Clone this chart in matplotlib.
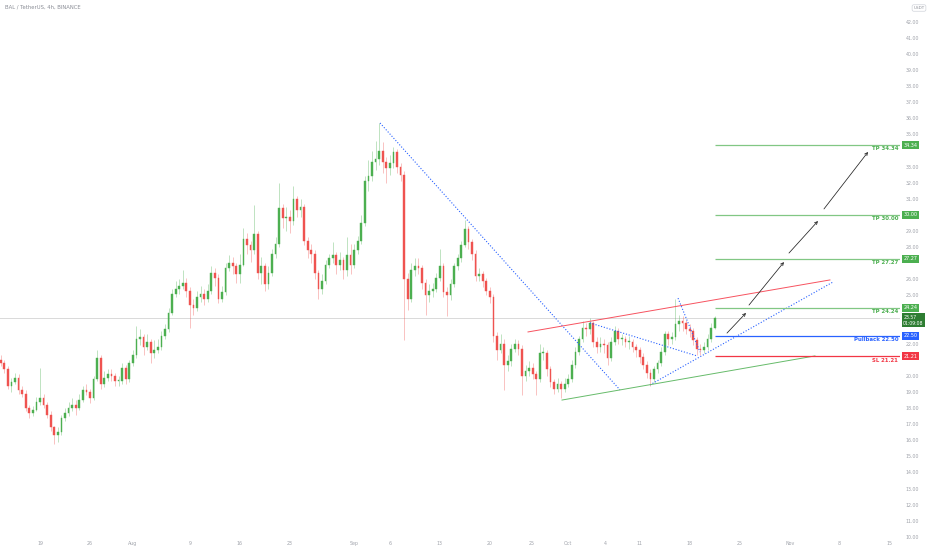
import matplotlib
matplotlib.use("Agg")
import matplotlib.pyplot as plt
import matplotlib.dates as mdates
from matplotlib.transforms import blended_transform_factory
import pandas as pd

# ---------------- data ----------------
title_text = "BAL / TetherUS, 4h, BINANCE"
first_open = 21.0
closes = [20.8, 20.4, 19.4, 19.6, 19.9, 19.1, 18.9, 18.0, 17.7, 17.9,
          18.4, 18.6, 18.2, 17.6, 16.8, 16.3, 16.5, 17.4, 17.7, 18.0,
          18.2, 18.0, 18.5, 19.1, 19.0, 18.6, 19.8, 21.1, 19.5, 19.9,
          20.1, 20.0, 19.7, 19.7, 20.5, 19.8, 20.8, 21.3, 22.3, 22.4,
          21.8, 22.1, 21.4, 21.6, 21.8, 22.5, 22.9, 23.9, 25.1, 25.4,
          25.6, 25.8, 25.3, 24.4, 24.2, 24.9, 25.1, 24.8, 25.3, 26.4,
          26.1, 24.8, 25.2, 26.7, 27.0, 26.8, 26.3, 26.9, 28.5, 28.1,
          27.8, 28.8, 26.4, 26.8, 25.7, 26.4, 27.6, 28.2, 30.4, 29.8,
          29.9, 29.6, 31.0, 30.3, 30.5, 28.4, 27.8, 27.6, 26.4, 25.4,
          25.9, 26.9, 27.3, 27.5, 26.9, 27.2, 26.6, 27.5, 26.9, 27.8,
          28.4, 29.5, 32.1, 32.4, 33.3, 33.5, 34.0, 33.3, 32.9, 33.2,
          33.9, 33.0, 32.5, 26.0, 24.8, 26.6, 26.8, 26.7, 25.8, 25.0,
          25.3, 25.4, 26.1, 26.8, 25.2, 25.0, 25.7, 26.8, 27.3, 28.1,
          29.1, 28.3, 27.6, 26.2, 26.3, 25.9, 25.3, 24.9, 22.5, 21.6,
          22.0, 20.7, 20.9, 21.7, 22.0, 21.7, 20.0, 20.3, 20.5, 20.1,
          19.8, 21.4, 21.4, 20.4, 19.6, 19.2, 19.5, 19.2, 19.5, 19.8,
          20.7, 21.5, 22.3, 23.0, 22.9, 23.3, 22.1, 21.8, 22.0, 21.9,
          21.1, 22.1, 22.8, 22.3, 22.3, 22.1, 22.1, 21.8, 21.6, 21.2,
          20.7, 20.2, 19.8, 20.4, 20.8, 21.5, 22.6, 22.3, 22.4, 23.2,
          23.4, 23.3, 22.9, 22.8, 22.2, 21.7, 21.6, 21.8, 22.3, 23.0,
          23.57]
highs = [21.3, 21.0, 20.6, 19.9, 20.2, 20.1, 19.4, 19.1, 18.2, 18.1,
         18.7, 20.5, 18.9, 18.4, 17.8, 16.9, 16.8, 17.6, 18.0, 18.4,
         18.6, 18.5, 18.9, 19.4, 19.5, 19.2, 20.0, 21.6, 21.3, 20.3,
         20.4, 20.4, 20.2, 20.0, 20.8, 20.7, 21.0, 21.6, 23.1, 22.9,
         22.6, 22.6, 22.3, 22.2, 22.3, 22.8, 23.2, 24.2, 25.4, 25.9,
         26.0, 26.6, 26.1, 25.5, 24.8, 25.3, 25.6, 25.4, 25.7, 26.8,
         26.7, 26.3, 25.6, 27.0, 27.5, 27.4, 27.0, 27.6, 29.2, 28.9,
         28.4, 30.6, 29.0, 27.4, 27.0, 26.8, 27.9, 28.6, 32.0, 30.7,
         30.5, 30.3, 31.8, 31.2, 31.0, 30.7, 28.6, 28.2, 27.8, 26.6,
         26.3, 27.2, 27.6, 28.3, 27.7, 27.7, 27.4, 28.6, 28.2, 28.2,
         28.7, 30.0, 32.4, 33.4, 34.0, 34.6, 35.7, 34.5, 33.6, 33.7,
         34.2, 34.1, 33.2, 32.7, 26.4, 27.0, 27.3, 27.3, 26.9, 26.0,
         25.7, 25.8, 26.4, 27.9, 27.0, 25.5, 26.0, 27.0, 27.6, 28.4,
         29.7, 29.3, 28.5, 27.8, 26.7, 26.5, 26.1, 25.5, 25.1, 22.7,
         22.6, 22.3, 21.3, 22.0, 22.3, 22.2, 21.9, 20.7, 20.9, 20.8,
         20.3, 22.0, 21.8, 21.6, 20.6, 19.8, 19.9, 19.7, 19.9, 20.1,
         21.0, 21.8, 22.5, 23.4, 23.3, 23.6, 23.4, 22.4, 22.4, 22.3,
         22.1, 22.4, 23.1, 23.0, 22.6, 22.5, 22.5, 22.3, 22.0, 21.8,
         21.4, 20.9, 20.4, 20.6, 21.0, 21.8, 22.8, 22.8, 22.7, 24.8,
         23.8, 23.7, 23.5, 23.2, 23.0, 22.4, 22.0, 22.1, 22.6, 23.3,
         23.7]
lows = [20.6, 20.2, 19.2, 19.0, 19.5, 18.9, 18.7, 17.8, 17.4, 17.5,
        17.8, 18.2, 18.0, 17.4, 16.6, 15.8, 15.9, 16.3, 17.2, 17.5,
        17.8, 17.6, 17.9, 18.4, 18.8, 18.3, 18.5, 19.7, 19.2, 19.3,
        19.7, 19.7, 19.4, 19.4, 19.5, 19.5, 19.6, 20.6, 21.1, 21.9,
        21.3, 21.6, 20.8, 21.1, 21.4, 21.6, 22.3, 22.7, 23.8, 24.9,
        25.1, 25.4, 24.9, 23.0, 23.8, 24.0, 24.6, 24.4, 24.6, 25.1,
        25.6, 24.5, 24.6, 25.0, 26.5, 26.3, 25.8, 25.8, 26.8, 27.6,
        27.1, 27.6, 26.0, 25.7, 25.3, 25.4, 26.2, 27.3, 28.0, 29.2,
        29.0, 28.9, 29.4, 29.9, 29.9, 28.1, 27.3, 27.0, 26.0, 24.8,
        25.1, 25.7, 26.7, 27.0, 26.3, 26.6, 26.0, 26.2, 26.3, 26.7,
        27.6, 28.2, 29.3, 31.5, 32.1, 32.8, 33.1, 32.6, 32.0, 32.5,
        32.9, 32.6, 32.1, 22.2, 24.1, 24.6, 26.2, 26.3, 25.4, 23.8,
        24.6, 24.9, 25.2, 25.9, 24.9, 23.7, 24.7, 25.5, 26.6, 27.1,
        28.0, 27.9, 27.2, 25.9, 25.9, 25.5, 25.0, 24.5, 22.1, 21.0,
        21.4, 19.1, 20.3, 20.6, 21.5, 21.3, 18.8, 19.7, 20.0, 19.8,
        18.8, 19.6, 21.0, 20.0, 19.3, 18.9, 19.0, 18.6, 19.0, 19.3,
        19.6, 20.5, 21.3, 22.1, 22.5, 22.6, 21.8, 21.4, 21.5, 21.4,
        20.7, 20.9, 21.9, 22.0, 21.9, 21.8, 21.7, 21.5, 21.2, 20.8,
        20.4, 19.9, 19.4, 19.6, 20.2, 20.6, 21.3, 21.9, 22.0, 22.2,
        22.8, 22.8, 22.6, 22.4, 21.9, 21.3, 21.3, 21.4, 21.6, 22.1,
        22.9]
candle_start = "2021-07-13 12:00"
candle_step = "12h"

last_price = 23.57
countdown = "01:09:08"

level_values = [34.34, 30.00, 27.27, 24.24, 22.50, 21.21]
level_names = ["TP 34.34", "TP 30.00", "TP 27.27", "TP 24.24", "Pullback 22.50", "SL 21.21"]
level_colors = ["#4caf50", "#4caf50", "#4caf50", "#4caf50", "#2962ff", "#f23645"]
level_start = "2021-10-21 13:00"

# trend lines: (start date, start price, end date, end price)
blue_dotted = [("2021-09-04 15:00", 35.71, "2021-10-08 05:30", 19.13),
               ("2021-10-04 00:45", 23.29, "2021-10-19 00:30", 21.24),
               ("2021-10-16 08:40", 24.83, "2021-10-19 10:30", 21.48),
               ("2021-10-12 10:20", 19.44, "2021-11-07 01:30", 25.83)]
red_line = ("2021-09-25 08:24", 22.73, "2021-11-06 15:20", 25.96)
green_line = ("2021-09-30 02:40", 18.50, "2021-11-04 13:00", 21.24)
arrows = [("2021-10-23 05:17", 22.66, "2021-10-25 21:07", 23.91),
          ("2021-10-26 07:12", 24.40, "2021-10-31 04:48", 27.07),
          ("2021-10-31 21:36", 27.63, "2021-11-04 23:02", 29.62),
          ("2021-11-05 19:12", 30.37, "2021-11-11 23:17", 33.91)]

x_tick_dates = ["2021-07-19", "2021-07-26", "2021-08-01", "2021-08-09", "2021-08-16",
                "2021-08-23", "2021-09-01", "2021-09-06", "2021-09-13", "2021-09-20",
                "2021-09-25 22:00", "2021-10-01", "2021-10-06 03:00", "2021-10-11",
                "2021-10-18", "2021-10-25", "2021-11-01", "2021-11-08", "2021-11-15"]
x_tick_labels = ["19", "26", "Aug", "9", "16", "23", "Sep", "6", "13", "20",
                 "25", "Oct", "4", "11", "18", "25", "Nov", "8", "15"]
y_ticks = [10, 11, 12, 13, 14, 15, 16, 17, 18, 19, 20, 22, 25, 26, 28, 29,
           31, 32, 33, 35, 36, 37, 38, 39, 40, 41, 42]
x_limits = ("2021-07-13 09:36", "2021-11-16 10:48")
y_limits = (9.93, 43.35)

# ---------------- figure ----------------
W, H = 932, 550
fig = plt.figure(figsize=(W / 100, H / 100), dpi=100)
ax = fig.add_axes([0, 12 / H, 900 / W, 1 - 12 / H])
ax.set_facecolor("white")

times = pd.date_range(candle_start, periods=len(closes), freq=candle_step)
tnum = mdates.date2num(times)
opens = [first_open] + closes[:-1]
up_col, dn_col = "#4caf50", "#ef5350"
cols = [up_col if c >= o else dn_col for o, c in zip(opens, closes)]
ax.vlines(tnum, lows, highs, colors=cols, linewidth=0.5, alpha=0.5, zorder=3)
bottoms = [min(o, c) for o, c in zip(opens, closes)]
heights = [max(abs(c - o), 0.06) for o, c in zip(opens, closes)]
ax.bar(tnum, heights, bottom=bottoms, width=0.24, color=cols, edgecolor=cols,
       linewidth=0.3, zorder=4)

# current price line
ax.axhline(last_price, color="#d9d9d9", linewidth=0.7, zorder=1)

def d(s):
    return mdates.date2num(pd.Timestamp(s))

for (a, pa, b, pb) in blue_dotted:
    ax.plot([d(a), d(b)], [pa, pb], linestyle=(0, (1, 1.6)), color="#2962ff",
            linewidth=0.8, zorder=5)
ax.plot([d(red_line[0]), d(red_line[2])], [red_line[1], red_line[3]],
        color="#f7525f", linewidth=0.7, zorder=5)
ax.plot([d(green_line[0]), d(green_line[2])], [green_line[1], green_line[3]],
        color="#66bb6a", linewidth=0.7, zorder=5)

for (a, pa, b, pb) in arrows:
    ax.annotate("", xy=(d(b), pb), xytext=(d(a), pa),
                arrowprops=dict(arrowstyle="->", color="#222222", lw=0.55,
                                mutation_scale=5, shrinkA=0, shrinkB=0), zorder=6)

ax.set_xlim(d(x_limits[0]), d(x_limits[1]))
ax.set_ylim(*y_limits)

xr = ax.get_xlim()[1]
line_colors = ["#81c784", "#81c784", "#81c784", "#81c784", "#2962ff", "#f23645"]
for v, name, c, lc in zip(level_values, level_names, level_colors, line_colors):
    ax.hlines(v, d(level_start), xr, colors=lc, linewidth=0.9, zorder=5)
    ax.text(xr - 0.25, v - 0.08, name, color=c, fontsize=3.9, fontweight="bold",
            ha="right", va="top", zorder=7)

# axes styling
for s in ax.spines.values():
    s.set_visible(False)
ax.yaxis.tick_right()
ax.set_yticks(y_ticks)
ax.set_yticklabels([f"{v:.2f}" for v in y_ticks])
ax.tick_params(axis="y", length=0, pad=4, labelsize=3.4, labelcolor="#a0a3ab")
ax.set_xticks([d(s) for s in x_tick_dates])
ax.set_xticklabels(x_tick_labels)
ax.tick_params(axis="x", length=0, pad=2.5, labelsize=3.4, labelcolor="#a0a3ab")

tr = blended_transform_factory(ax.transAxes, ax.transData)
for v, c in zip(level_values, level_colors):
    ax.text(1.0035, v, f"{v:.2f}", transform=tr, color="white", fontsize=3.5,
            ha="left", va="center", clip_on=False, zorder=10,
            bbox=dict(boxstyle="square,pad=0.3", fc=c, ec="none"))
ax.text(1.0035, last_price - 0.12, f"{last_price:.2f}\n{countdown}", transform=tr,
        color="white", fontsize=3.3, ha="left", va="center", clip_on=False,
        zorder=11, linespacing=1.3,
        bbox=dict(boxstyle="square,pad=0.3", fc="#2e7d32", ec="none"))

fig.text(5 / W, 1 - 7 / H, title_text, fontsize=3.8, color="#8a8d96",
         ha="left", va="center")
fig.text(919 / W, 1 - 8 / H, "USDT", fontsize=3.0, color="#8a8d96", ha="center",
         va="center", bbox=dict(boxstyle="round,pad=0.3,rounding_size=0.4",
                                fc="white", ec="#d0d3da", lw=0.5))

fig.savefig("out.png", dpi=100, facecolor="white")
